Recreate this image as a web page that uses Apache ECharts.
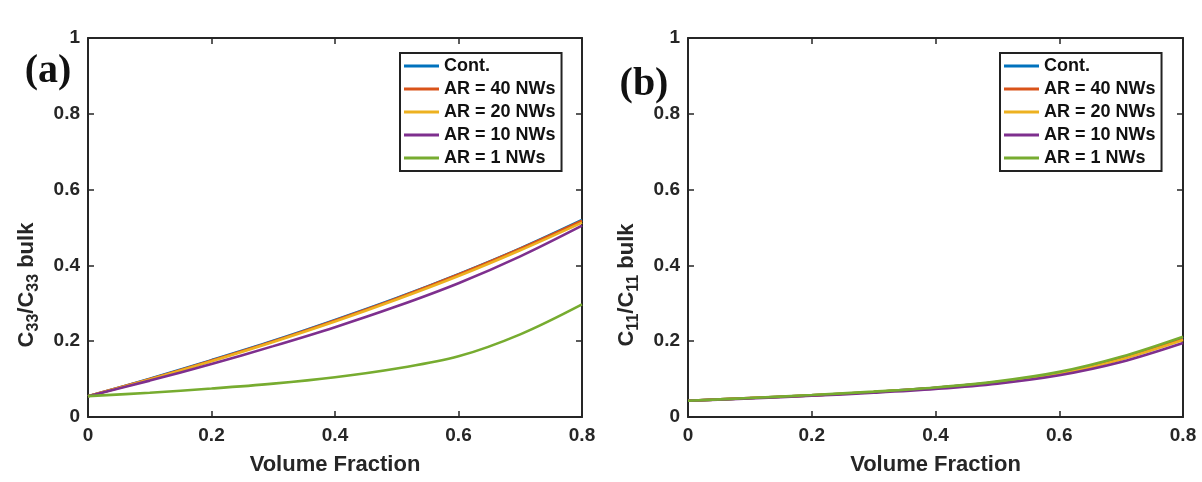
<!DOCTYPE html>
<html>
<head>
<meta charset="utf-8">
<script src="https://cdn.jsdelivr.net/npm/echarts@6/dist/echarts.min.js"></script>
<style>html,body{margin:0;padding:0;background:#fff;}#c{width:1202px;height:482px;}</style>
</head>
<body>
<div id="c"></div>
<script>
const volumeFraction = [0, 0.1, 0.2, 0.3, 0.4, 0.5, 0.6, 0.7, 0.8];
const seriesNames = ['Cont.', 'AR = 40 NWs', 'AR = 20 NWs', 'AR = 10 NWs', 'AR = 1 NWs'];
const colors = ['#0072BD', '#D95319', '#EDB120', '#7E2F8E', '#77AC30'];

// Panel (a): C33 / C33 bulk
const a_cont = [0.055, 0.101, 0.150, 0.201, 0.256, 0.314, 0.377, 0.445, 0.520];
const a_ar40 = [0.055, 0.100, 0.149, 0.200, 0.255, 0.313, 0.376, 0.444, 0.518];
const a_ar20 = [0.055, 0.099, 0.147, 0.198, 0.252, 0.310, 0.372, 0.440, 0.513];
const a_ar10 = [0.055, 0.096, 0.140, 0.187, 0.237, 0.292, 0.353, 0.424, 0.505];
const a_ar1  = [0.055, 0.064, 0.075, 0.088, 0.105, 0.128, 0.160, 0.218, 0.297];

// Panel (b): C11 / C11 bulk
const b_cont = [0.043, 0.050, 0.057, 0.066, 0.077, 0.092, 0.116, 0.155, 0.207];
const b_ar40 = [0.043, 0.050, 0.057, 0.066, 0.077, 0.092, 0.115, 0.154, 0.205];
const b_ar20 = [0.043, 0.050, 0.057, 0.066, 0.076, 0.091, 0.114, 0.152, 0.203];
const b_ar10 = [0.043, 0.049, 0.056, 0.064, 0.074, 0.088, 0.110, 0.145, 0.195];
const b_ar1  = [0.043, 0.050, 0.058, 0.067, 0.078, 0.094, 0.119, 0.159, 0.212];

const xTickLabels = ['0', '0.2', '0.4', '0.6', '0.8'];
const yTickLabels = ['0', '0.2', '0.4', '0.6', '0.8', '1'];

const panelA = [a_cont, a_ar40, a_ar20, a_ar10, a_ar1];
const panelB = [b_cont, b_ar40, b_ar20, b_ar10, b_ar1];

const axisColor = '#262626';
const font = 'Liberation Sans, Arial, sans-serif';

function pairs(ys) { return volumeFraction.map((x, i) => [x, ys[i]]); }
function xFmt(v) { const i = Math.round(v / 0.2); return xTickLabels[i] !== undefined ? xTickLabels[i] : ''; }
function yFmt(v) { const i = Math.round(v / 0.2); return yTickLabels[i] !== undefined ? yTickLabels[i] : ''; }

function xAx(grid, pos, labels) {
  return {
    type: 'value', gridIndex: grid, position: pos, min: 0, max: 0.8, interval: 0.2,
    axisLine: { show: true, onZero: false, lineStyle: { color: axisColor, width: 2 } },
    axisTick: { show: true, inside: true, length: 6, lineStyle: { color: axisColor, width: 1.5 } },
    axisLabel: { show: labels, formatter: xFmt, color: axisColor, fontSize: 19, fontWeight: 'bold', fontFamily: font, margin: 9 },
    splitLine: { show: false },
    name: labels ? 'Volume Fraction' : '', nameLocation: 'middle', nameGap: 37,
    nameTextStyle: { color: axisColor, fontSize: 22, fontWeight: 'bold', fontFamily: font }
  };
}
function yAx(grid, pos, labels) {
  return {
    type: 'value', gridIndex: grid, position: pos, min: 0, max: 1, interval: 0.2,
    axisLine: { show: true, onZero: false, lineStyle: { color: axisColor, width: 2 } },
    axisTick: { show: true, inside: true, length: 6, lineStyle: { color: axisColor, width: 1.5 } },
    axisLabel: { show: labels, formatter: yFmt, color: axisColor, fontSize: 19, fontWeight: 'bold', fontFamily: font, margin: 8 },
    splitLine: { show: false }
  };
}

const series = [];
[panelA, panelB].forEach((panel, p) => {
  panel.forEach((ys, i) => {
    series.push({
      name: seriesNames[i], type: 'line', xAxisIndex: p * 2, yAxisIndex: p * 2,
      data: pairs(ys), smooth: 0.35, symbol: 'none', showSymbol: false,
      lineStyle: { color: colors[i], width: 2.6 }, itemStyle: { color: colors[i] },
      animation: false, z: 2 + i
    });
  });
});

function legend(left) {
  return {
    data: seriesNames.map((n, i) => ({ name: n, icon: 'rect', itemStyle: { color: colors[i] } })),
    orient: 'vertical', left: left, top: 53,
    backgroundColor: '#fff', borderColor: '#222', borderWidth: 2,
    padding: [4, 6, 4, 4], itemGap: 5, itemWidth: 35, itemHeight: 3,
    textStyle: { color: '#111', fontSize: 18, fontWeight: 'bold', fontFamily: font, lineHeight: 18 },
    selectedMode: false
  };
}

function ylabel(x, sub) {
  return {
    type: 'text', x: x, y: 285, rotation: Math.PI / 2,
    style: {
      text: '{c|C}{s|' + sub + '}{c|/C}{s|' + sub + '}{c| bulk}',
      align: 'center', verticalAlign: 'middle',
      rich: {
        c: { fontSize: 22, fontWeight: 'bold', fontFamily: font, fill: axisColor, lineHeight: 30, verticalAlign: 'middle' },
        s: { fontSize: 16, fontWeight: 'bold', fontFamily: font, fill: axisColor, lineHeight: 14, verticalAlign: 'bottom' }
      }
    }
  };
}

const option = {
  backgroundColor: '#fff',
  animation: false,
  grid: [
    { left: 88, top: 38, width: 494, height: 379 },
    { left: 688, top: 38, width: 495, height: 379 }
  ],
  xAxis: [xAx(0, 'bottom', true), xAx(0, 'top', false), xAx(1, 'bottom', true), xAx(1, 'top', false)],
  yAxis: [yAx(0, 'left', true), yAx(0, 'right', false), yAx(1, 'left', true), yAx(1, 'right', false)],
  legend: [legend(400), legend(1000)],
  series: series,
  graphic: [
    ylabel(27, '33'), ylabel(627, '11'),
    { type: 'text', x: 48, y: 72, style: { text: '(a)', align: 'center', verticalAlign: 'middle', fontSize: 40, fontWeight: 'bold', fontFamily: 'Liberation Serif, Times New Roman, serif', fill: '#111' } },
    { type: 'text', x: 644, y: 85, style: { text: '(b)', align: 'center', verticalAlign: 'middle', fontSize: 40, fontWeight: 'bold', fontFamily: 'Liberation Serif, Times New Roman, serif', fill: '#111' } }
  ]
};
const chart = echarts.init(document.getElementById('c'), null, { renderer: 'canvas' });
chart.setOption(option);
</script>
</body>
</html>
